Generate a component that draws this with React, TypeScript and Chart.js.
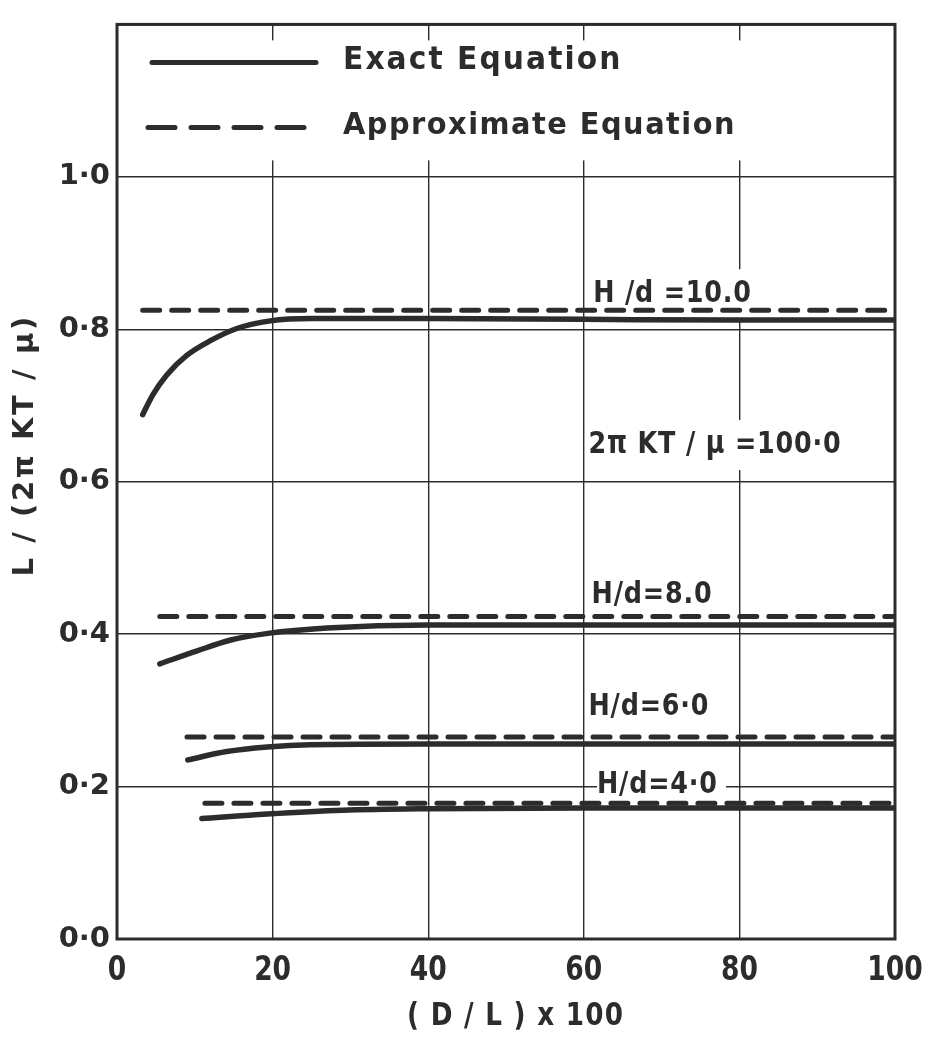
import React, { useEffect, useRef } from 'react';
import { Chart, registerables } from 'chart.js';

Chart.register(...registerables);

// ---- data ----
const xTickValues = [0, 20, 40, 60, 80, 100];
const xTickLabels = ['0', '20', '40', '60', '80', '100'];
const yTickValues = [0, 0.2, 0.4, 0.6, 0.8, 1.0];
const yTickLabels = ['0·0', '0·2', '0·4', '0·6', '0·8', '1·0'];

// H/d = 10.0
const exact10X = [3.3, 4.6, 6.4, 9.0, 12.0, 15.4, 19.7, 25, 30, 40, 60, 80, 100];
const exact10Y = [0.688, 0.714, 0.740, 0.766, 0.785, 0.801, 0.811, 0.814, 0.814, 0.814, 0.813, 0.812, 0.812];
const approx10X = [3.3, 100];
const approx10Y = [0.825, 0.825];
// H/d = 8.0
const exact8X = [5.5, 10.3, 14.5, 19.4, 27, 40, 60, 80, 100];
const exact8Y = [0.361, 0.378, 0.392, 0.401, 0.408, 0.412, 0.412, 0.412, 0.412];
const approx8X = [5.5, 100];
const approx8Y = [0.423, 0.423];
// H/d = 6.0
const exact6X = [9.1, 14.1, 19.3, 24.8, 40, 60, 80, 100];
const exact6Y = [0.235, 0.246, 0.252, 0.255, 0.256, 0.256, 0.256, 0.256];
const approx6X = [9.0, 100];
const approx6Y = [0.265, 0.265];
// H/d = 4.0
const exact4X = [10.9, 19.3, 29, 40, 60, 80, 100];
const exact4Y = [0.158, 0.164, 0.169, 0.171, 0.172, 0.172, 0.172];
const approx4X = [11.3, 100];
const approx4Y = [0.178, 0.178];

const seriesNames = ['Exact Equation', 'Approximate Equation'];
const curveLabels = ['H /d =10.0', '2π KT / μ =100·0', 'H/d=8.0', 'H/d=6·0', 'H/d=4·0'];
const curveLabelX = [61.2, 60.6, 61.0, 60.6, 61.7];
const curveLabelY = [0.846, 0.648, 0.452, 0.305, 0.202];
const xTitle = '( D / L ) x 100';
const yTitle = 'L / (2π KT / μ)';

const INK = '#2c2c2c';
const FONT = '"DejaVu Sans", "Liberation Sans", sans-serif';

function drawText(
  ctx: CanvasRenderingContext2D,
  s: string,
  x: number,
  y: number,
  size: number,
  weight: string,
  sx: number,
  align: 'left' | 'center' | 'right',
  ls: number
) {
  ctx.save();
  ctx.font = `${weight} ${size}px ${FONT}`;
  (ctx as any).letterSpacing = `${ls}px`;
  ctx.fillStyle = INK;
  ctx.textBaseline = 'middle';
  ctx.textAlign = 'left';
  const w = (ctx.measureText(s).width - ls) * sx;
  const left = align === 'center' ? x - w / 2 : align === 'right' ? x - w : x;
  ctx.translate(left, y);
  ctx.scale(sx, 1);
  ctx.fillText(s, 0, 0);
  ctx.restore();
  return w;
}

function measure(ctx: CanvasRenderingContext2D, s: string, size: number, weight: string, sx: number, ls: number) {
  ctx.save();
  ctx.font = `${weight} ${size}px ${FONT}`;
  (ctx as any).letterSpacing = `${ls}px`;
  const w = (ctx.measureText(s).width - ls) * sx;
  ctx.restore();
  return w;
}

const LABEL_SIZE = 31;
const LABEL_SX = 0.82;
const LABEL_LS = 1;

const decorPlugin = {
  id: 'decor',
  beforeDraw(chart: any) {
    const { ctx, width, height } = chart;
    ctx.save();
    ctx.fillStyle = '#ffffff';
    ctx.fillRect(0, 0, width, height);
    ctx.restore();
  },
  beforeDatasetsDraw(chart: any) {
    const { ctx, chartArea, scales } = chart;
    ctx.save();
    ctx.fillStyle = '#ffffff';
    // legend panel (hides the grid behind it)
    ctx.fillRect(chartArea.left + 3, chartArea.top + 16, chartArea.right - chartArea.left - 6, 120);
    // label panels
    curveLabels.forEach((s, i) => {
      const px = scales.x.getPixelForValue(curveLabelX[i]);
      const py = scales.y.getPixelForValue(curveLabelY[i]);
      const w = measure(ctx, s, LABEL_SIZE, 'bold', LABEL_SX, LABEL_LS);
      ctx.fillRect(px, py - 25, w + 9, 50);
    });
    ctx.restore();
  },
  afterDatasetsDraw(chart: any) {
    const { ctx, chartArea, scales } = chart;
    const L = chartArea.left;
    const T = chartArea.top;
    // curve labels
    curveLabels.forEach((s, i) => {
      const px = scales.x.getPixelForValue(curveLabelX[i]);
      const py = scales.y.getPixelForValue(curveLabelY[i]);
      drawText(ctx, s, px, py, LABEL_SIZE, 'bold', LABEL_SX, 'left', LABEL_LS);
    });
    // legend
    ctx.save();
    ctx.strokeStyle = INK;
    ctx.lineWidth = 5;
    ctx.lineCap = 'round';
    ctx.beginPath();
    ctx.moveTo(L + 35, T + 38);
    ctx.lineTo(L + 199, T + 38);
    ctx.stroke();
    ctx.setLineDash([27, 16]);
    ctx.beginPath();
    ctx.moveTo(L + 31, T + 103);
    ctx.lineTo(L + 188, T + 103);
    ctx.stroke();
    ctx.restore();
    drawText(ctx, seriesNames[0], L + 226, T + 36, 32, 'bold', 0.93, 'left', 2.2);
    drawText(ctx, seriesNames[1], L + 226, T + 102, 31, 'bold', 0.93, 'left', 1.6);

    // frame
    ctx.save();
    ctx.strokeStyle = INK;
    ctx.lineWidth = 3;
    ctx.strokeRect(chartArea.left, chartArea.top, chartArea.right - chartArea.left, chartArea.bottom - chartArea.top);
    ctx.restore();

    // x tick labels
    xTickValues.forEach((v, i) => {
      const px = scales.x.getPixelForValue(v);
      drawText(ctx, xTickLabels[i], px, chartArea.bottom + 32, 34, 'bold', 0.78, 'center', 0);
    });

    // axis titles
    const cx = (chartArea.left + chartArea.right) / 2 + 9;
    drawText(ctx, xTitle, cx, chartArea.bottom + 78, 32, 'bold', 0.82, 'center', 1.5);
    ctx.save();
    ctx.translate(25, (chartArea.top + chartArea.bottom) / 2 - 35);
    ctx.rotate(-Math.PI / 2);
    drawText(ctx, yTitle, 0, 0, 29, 'bold', 1, 'center', 2.6);
    ctx.restore();
  },
};

function series(xs: number[], ys: number[], dashed: boolean) {
  return {
    data: xs.map((x, i) => ({ x, y: ys[i] })),
    borderColor: INK,
    backgroundColor: INK,
    borderWidth: dashed ? 5 : 5.5,
    borderDash: dashed ? [17, 12] : [],
    borderCapStyle: 'round' as const,
    borderJoinStyle: 'round' as const,
    pointRadius: 0,
    fill: false,
    cubicInterpolationMode: 'monotone' as const,
  };
}

export default function App() {
  const ref = useRef<HTMLCanvasElement>(null);

  useEffect(() => {
    document.body.style.margin = '0';
    const canvas = ref.current;
    if (!canvas) return;
    const chart = new Chart(canvas, {
      type: 'line',
      data: {
        datasets: [
          series(approx10X, approx10Y, true),
          series(exact10X, exact10Y, false),
          series(approx8X, approx8Y, true),
          series(exact8X, exact8Y, false),
          series(approx6X, approx6Y, true),
          series(exact6X, exact6Y, false),
          series(approx4X, approx4Y, true),
          series(exact4X, exact4Y, false),
        ],
      },
      options: {
        responsive: false,
        animation: false,
        devicePixelRatio: 1,
        layout: { padding: { top: 10, right: 31, left: 0, bottom: 0 } },
        plugins: {
          legend: { display: false },
          tooltip: { enabled: false },
        },
        scales: {
          x: {
            type: 'linear',
            min: 0,
            max: 100,
            ticks: { stepSize: 20, display: false },
            grid: { color: INK, lineWidth: 1.4, drawTicks: false },
            border: { display: false },
            afterFit: (scale: any) => {
              scale.height = 102;
            },
          },
          y: {
            type: 'linear',
            min: 0,
            max: 1.2,
            ticks: {
              stepSize: 0.2,
              padding: 7,
              color: INK,
              font: { family: FONT, size: 29, weight: 'bold' },
              callback: (v: any) => {
                const i = yTickValues.findIndex((t) => Math.abs(t - Number(v)) < 1e-6);
                return i >= 0 ? yTickLabels[i] : '';
              },
            },
            grid: { color: INK, lineWidth: 1.4, drawTicks: false },
            border: { display: false },
            afterFit: (scale: any) => {
              scale.width = 117;
            },
          },
        },
      } as any,
      plugins: [decorPlugin],
    });
    return () => chart.destroy();
  }, []);

  return (
    <div style={{ width: 926, height: 1041, background: '#fff' }}>
      <canvas ref={ref} width={926} height={1041} style={{ display: 'block' }} />
    </div>
  );
}
